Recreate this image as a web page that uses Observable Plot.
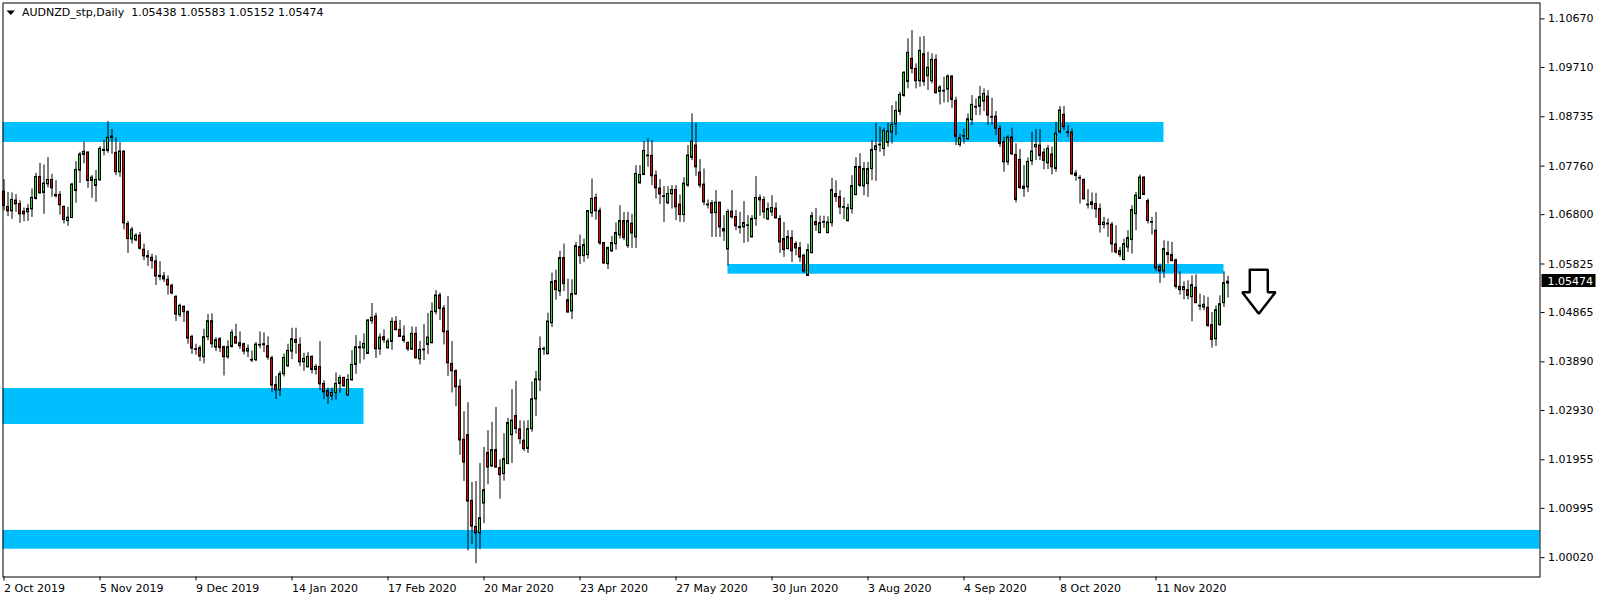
<!DOCTYPE html>
<html><head><meta charset="utf-8">
<script src="https://cdn.jsdelivr.net/npm/d3@7"></script>
<script src="https://cdn.jsdelivr.net/npm/@observablehq/plot@0.6"></script>
<style>
html,body{margin:0;padding:0;background:#fff;}
#chart svg{display:block;}
</style></head><body><div id="chart"></div>
<script>
const titleLine = "AUDNZD_stp,Daily  1.05438 1.05583 1.05152 1.05474";

const opens = [
1.07255,1.06952,1.06866,1.07077,1.07011,1.06859,1.06846,1.06905,1.07110,1.07546,
1.07229,1.07400,1.07486,1.07189,1.07189,1.06952,1.06674,1.06734,1.07268,1.07671,
1.07981,1.08027,1.07466,1.07367,1.07480,1.08060,1.08060,1.08344,1.08021,1.07638,
1.08047,1.06615,1.06311,1.06292,1.06384,1.06107,1.05981,1.05948,1.05876,1.05592,
1.05579,1.05513,1.05394,1.05176,1.04813,1.04978,1.04873,1.04384,1.04140,1.04160,
1.03982,1.04378,1.04694,1.04173,1.04338,1.04180,1.03982,1.04186,1.04378,1.04259,
1.04239,1.04094,1.03929,1.03922,1.04213,1.04239,1.04199,1.03962,1.03430,1.03325,
1.03645,1.03803,1.04094,1.04325,1.04225,1.03882,1.03783,1.03988,1.03730,1.03790,
1.03453,1.03314,1.03209,1.03275,1.03453,1.03572,1.03229,1.03526,1.03829,1.04159,
1.04159,1.04047,1.04694,1.04786,1.04139,1.04377,1.04159,1.04285,1.04681,1.04522,
1.04390,1.04265,1.04133,1.04443,1.03941,1.04120,1.04225,1.04258,1.04872,1.05202,
1.04945,1.04489,1.03849,1.03704,1.03400,1.02351,1.02443,1.01143,1.00628,1.00503,
1.01090,1.02087,1.01823,1.02146,1.01790,1.01671,1.01869,1.02443,1.02819,1.02555,
1.02331,1.02170,1.02560,1.03150,1.03526,1.04133,1.04041,1.04655,1.05486,1.05282,
1.05942,1.05110,1.04886,1.05222,1.06160,1.05981,1.06001,1.06826,1.07130,1.06872,
1.06239,1.05823,1.06074,1.06219,1.06391,1.06674,1.06179,1.06622,1.06351,1.07420,
1.07585,1.07955,1.07961,1.07572,1.07315,1.07150,1.07024,1.07202,1.07288,1.06998,
1.06793,1.07374,1.07922,1.08166,1.07631,1.07394,1.06998,1.07024,1.06832,1.07037,
1.06516,1.06113,1.06859,1.06754,1.06556,1.06549,1.06576,1.06351,1.06714,1.07130,
1.07090,1.06707,1.06846,1.06919,1.06714,1.06318,1.06120,1.06338,1.06219,1.06140,
1.05988,1.05590,1.06039,1.06653,1.06435,1.06640,1.06435,1.06633,1.07207,1.07148,
1.06936,1.06672,1.06910,1.07187,1.07742,1.07359,1.07405,1.07702,1.08078,1.08171,
1.08098,1.08217,1.08428,1.08586,1.08831,1.09147,1.09425,1.09880,1.09682,1.09438,
1.09972,1.09537,1.09438,1.09860,1.09227,1.09233,1.09273,1.09530,1.09048,1.08177,
1.08342,1.08289,1.08666,1.08916,1.08936,1.09035,1.09134,1.08732,1.08738,1.08494,
1.08232,1.07836,1.08324,1.07981,1.07882,1.07308,1.07341,1.07856,1.08133,1.08166,
1.08027,1.07816,1.07988,1.07704,1.08430,1.08773,1.08430,1.08423,1.07612,1.07526,
1.07486,1.06998,1.06992,1.07011,1.06912,1.06595,1.06622,1.06602,1.06212,1.06080,
1.05902,1.06153,1.06298,1.06813,1.07110,1.07532,1.07070,1.06655,1.06483,1.05770,
1.05678,1.06041,1.06001,1.05896,1.05374,1.05308,1.05308,1.05170,1.05354,1.04998,
1.04965,1.04958,1.04615,1.04338,1.04615,1.05051,1.05438];

const highs = [
1.07493,1.07242,1.07229,1.07196,1.07077,1.06932,1.06998,1.07308,1.07618,1.07816,
1.07783,1.07928,1.07598,1.07473,1.07255,1.06978,1.06945,1.07420,1.07849,1.08034,
1.08239,1.08041,1.07572,1.07671,1.08146,1.08265,1.08641,1.08483,1.08318,1.08225,
1.08060,1.06668,1.06549,1.06424,1.06450,1.06219,1.06087,1.06021,1.05988,1.05869,
1.05658,1.05592,1.05427,1.05196,1.05031,1.04998,1.04899,1.04417,1.04239,1.04206,
1.04536,1.04826,1.04840,1.04371,1.04371,1.04206,1.04305,1.04523,1.04635,1.04483,
1.04259,1.04226,1.04107,1.04272,1.04483,1.04463,1.04384,1.04000,1.03601,1.03700,
1.04048,1.04239,1.04556,1.04556,1.04364,1.04060,1.04073,1.04014,1.03836,1.04291,
1.03519,1.03374,1.03374,1.03671,1.03618,1.03592,1.03638,1.04113,1.04410,1.04291,
1.04443,1.04727,1.05044,1.04852,1.04443,1.04522,1.04344,1.04760,1.04786,1.04707,
1.04601,1.04285,1.04582,1.04575,1.04298,1.04628,1.04846,1.05057,1.05301,1.05248,
1.05004,1.05182,1.04291,1.03737,1.03539,1.02905,1.03083,1.01506,1.01526,1.01882,
1.02199,1.02529,1.02694,1.02991,1.01955,1.02470,1.02773,1.03341,1.03506,1.02727,
1.02720,1.02732,1.03493,1.03704,1.04384,1.04186,1.04853,1.05645,1.05704,1.06080,
1.06219,1.05526,1.05513,1.06252,1.06397,1.06318,1.06880,1.07506,1.07209,1.06932,
1.06252,1.06160,1.06371,1.06635,1.06978,1.06846,1.06846,1.06806,1.07770,1.07770,
1.08245,1.08298,1.08265,1.07664,1.07493,1.07354,1.07354,1.07374,1.07374,1.07189,
1.07532,1.08166,1.08793,1.08602,1.07889,1.07704,1.07090,1.07077,1.07275,1.07044,
1.06780,1.06899,1.07275,1.06879,1.06846,1.07057,1.06780,1.06780,1.07552,1.07189,
1.07156,1.07031,1.07176,1.07031,1.06780,1.06648,1.06483,1.06483,1.06265,1.06252,
1.06021,1.06217,1.06844,1.06923,1.06771,1.06771,1.06758,1.07517,1.07471,1.07273,
1.07134,1.07009,1.07570,1.07926,1.08006,1.07834,1.07834,1.08263,1.08606,1.08527,
1.08507,1.08606,1.08956,1.09035,1.09220,1.09629,1.10276,1.10441,1.09781,1.10309,
1.10322,1.10012,1.09979,1.09959,1.09352,1.09517,1.09563,1.09550,1.09121,1.08388,
1.08494,1.08791,1.09154,1.09088,1.09332,1.09286,1.09253,1.09101,1.08837,1.08560,
1.08331,1.08364,1.08509,1.08199,1.08087,1.07770,1.07922,1.08430,1.08483,1.08483,
1.08100,1.08166,1.08133,1.08628,1.08938,1.08938,1.08562,1.08496,1.07671,1.07572,
1.07506,1.07295,1.07229,1.07222,1.07011,1.06747,1.06714,1.06648,1.06582,1.06153,
1.06318,1.06483,1.06978,1.07242,1.07585,1.07552,1.07110,1.06747,1.06846,1.05823,
1.06285,1.06272,1.06252,1.05922,1.05671,1.05473,1.05493,1.05592,1.05612,1.05229,
1.05196,1.05163,1.04866,1.04998,1.05196,1.05671,1.05583];

const lows = [
1.06879,1.06760,1.06707,1.06846,1.06628,1.06661,1.06668,1.06747,1.07090,1.07202,
1.06806,1.07328,1.07143,1.07130,1.06793,1.06615,1.06569,1.06721,1.07024,1.07420,
1.07803,1.07321,1.07123,1.07044,1.07460,1.07961,1.08014,1.07994,1.07572,1.07539,
1.06496,1.06034,1.06219,1.06265,1.06100,1.05889,1.05777,1.05724,1.05401,1.05493,
1.05460,1.05209,1.05216,1.04688,1.04767,1.04668,1.04239,1.04041,1.04021,1.03896,
1.03850,1.04305,1.04160,1.04094,1.04074,1.03612,1.03942,1.04160,1.04239,1.04133,
1.04028,1.03975,1.03876,1.03896,1.04147,1.04074,1.03922,1.03285,1.03147,1.03206,
1.03592,1.03777,1.03935,1.04041,1.03796,1.03704,1.03770,1.03651,1.03631,1.03321,
1.03143,1.03050,1.03123,1.03136,1.03268,1.03387,1.03202,1.03506,1.03644,1.03849,
1.03928,1.04040,1.04634,1.03961,1.04021,1.04258,1.04146,1.04120,1.04509,1.04377,
1.04258,1.04093,1.04113,1.03948,1.03829,1.03915,1.04034,1.04250,1.04819,1.04707,
1.04225,1.03605,1.03275,1.03004,1.02041,1.01526,1.00153,1.00285,0.99902,1.00179,
1.00694,1.01460,1.01803,1.01783,1.01176,1.01532,1.01862,1.01882,1.02463,1.02258,
1.02120,1.02080,1.02500,1.02807,1.03302,1.04021,1.04028,1.04569,1.05110,1.05183,
1.05282,1.04853,1.04727,1.05210,1.05816,1.05856,1.05922,1.06747,1.06688,1.06193,
1.05816,1.05717,1.06054,1.06100,1.06318,1.06285,1.06133,1.06133,1.06133,1.07400,
1.07572,1.07737,1.07374,1.07110,1.06998,1.06648,1.06998,1.06912,1.06681,1.06648,
1.06648,1.07341,1.07869,1.07559,1.07321,1.06978,1.06912,1.06351,1.06351,1.06351,
1.06272,1.05790,1.06714,1.06483,1.06417,1.06232,1.06252,1.06340,1.06569,1.06767,
1.06714,1.06681,1.06767,1.06714,1.06034,1.05955,1.06100,1.05856,1.05988,1.05856,
1.05638,1.05577,1.06026,1.06468,1.06422,1.06527,1.06422,1.06554,1.07042,1.06798,
1.06699,1.06659,1.06811,1.07174,1.07339,1.07174,1.07141,1.07471,1.07458,1.08032,
1.07953,1.08131,1.08197,1.08362,1.08758,1.09121,1.09286,1.09583,1.09286,1.09319,
1.09339,1.09253,1.09385,1.09187,1.08969,1.09009,1.09009,1.08903,1.08164,1.08131,
1.08197,1.08276,1.08560,1.08758,1.08758,1.08837,1.08560,1.08573,1.08362,1.08131,
1.07638,1.07770,1.07968,1.07031,1.07295,1.07143,1.07242,1.07770,1.07869,1.07869,
1.07684,1.07691,1.07585,1.07638,1.08397,1.08463,1.08331,1.07572,1.07460,1.07011,
1.07090,1.06912,1.06899,1.06727,1.06437,1.06516,1.06351,1.06041,1.06021,1.05955,
1.05890,1.06054,1.06021,1.06483,1.07100,1.07176,1.06615,1.06397,1.05671,1.05440,
1.05539,1.05823,1.05869,1.05328,1.05209,1.05117,1.05117,1.04681,1.05040,1.04899,
1.04899,1.04569,1.04160,1.04193,1.04600,1.04965,1.05152];

const closes = [
1.06971,1.06866,1.07090,1.07004,1.06806,1.06806,1.06912,1.07130,1.07546,1.07222,
1.07414,1.07486,1.07321,1.07163,1.06985,1.06694,1.06740,1.07394,1.07684,1.07988,
1.08041,1.07466,1.07532,1.07486,1.08100,1.08080,1.08318,1.08318,1.07638,1.08047,
1.06628,1.06318,1.06503,1.06384,1.06127,1.05975,1.05955,1.05882,1.05579,1.05566,
1.05519,1.05401,1.05242,1.04826,1.04998,1.04873,1.04351,1.04153,1.04127,1.03995,
1.04378,1.04694,1.04239,1.04318,1.04166,1.03982,1.04180,1.04463,1.04252,1.04199,
1.04094,1.04147,1.03916,1.04232,1.04226,1.04219,1.03975,1.03424,1.03330,1.03645,
1.03968,1.04107,1.04338,1.04265,1.03882,1.03948,1.03988,1.03730,1.03790,1.03446,
1.03288,1.03209,1.03275,1.03453,1.03572,1.03407,1.03532,1.03829,1.04179,1.04179,
1.04245,1.04707,1.04760,1.04139,1.04370,1.04318,1.04291,1.04681,1.04516,1.04384,
1.04304,1.04139,1.04443,1.03961,1.04126,1.04133,1.04370,1.04879,1.05202,1.04938,
1.04476,1.03862,1.03704,1.03387,1.02338,1.01902,1.01130,1.00635,1.00503,1.00800,
1.01354,1.01803,1.02146,1.01803,1.01651,1.01968,1.02681,1.02727,1.02562,1.02364,
1.02166,1.02560,1.03150,1.03546,1.04140,1.04146,1.04688,1.05467,1.05308,1.05942,
1.05427,1.04866,1.05229,1.06179,1.05981,1.06199,1.06872,1.07110,1.06866,1.06232,
1.05836,1.06140,1.06239,1.06437,1.06674,1.06338,1.06674,1.06430,1.07605,1.07585,
1.08060,1.07968,1.07559,1.07321,1.07202,1.07163,1.07209,1.07288,1.06945,1.06793,
1.07414,1.07968,1.08245,1.07737,1.07374,1.07044,1.06985,1.06826,1.07037,1.06549,
1.06470,1.06853,1.06747,1.06569,1.06536,1.06635,1.06589,1.06714,1.07130,1.07084,
1.06846,1.06912,1.06932,1.06727,1.06252,1.06100,1.06358,1.06074,1.06133,1.05955,
1.05678,1.06098,1.06771,1.06593,1.06633,1.06653,1.06646,1.07286,1.07148,1.06943,
1.06950,1.06930,1.07365,1.07742,1.07372,1.07702,1.07702,1.08078,1.08151,1.08184,
1.08454,1.08441,1.08573,1.08850,1.09167,1.09603,1.09999,1.09682,1.09438,1.10038,
1.09425,1.09702,1.09860,1.09200,1.09312,1.09246,1.09530,1.09068,1.08336,1.08309,
1.08355,1.08685,1.08969,1.08930,1.09121,1.09187,1.08758,1.08718,1.08494,1.08197,
1.07836,1.08324,1.07994,1.07090,1.07328,1.07354,1.07843,1.08047,1.08179,1.07961,
1.07862,1.08100,1.07737,1.08397,1.08859,1.08529,1.08417,1.07598,1.07565,1.07513,
1.07103,1.06985,1.07044,1.06906,1.06595,1.06641,1.06608,1.06212,1.06054,1.06001,
1.06219,1.06338,1.06892,1.07176,1.07532,1.07189,1.06674,1.06641,1.05737,1.05678,
1.06120,1.06001,1.05882,1.05374,1.05308,1.05368,1.05196,1.05407,1.05051,1.04985,
1.05018,1.04602,1.04325,1.04912,1.05031,1.05447,1.05474];

// date axis: one label every 24 daily bars
const xTickBars = [0,24,48,72,96,120,144,168,192,216,240,264,288];
const xTickLabels = ["2 Oct 2019","5 Nov 2019","9 Dec 2019","14 Jan 2020","17 Feb 2020","20 Mar 2020",
  "23 Apr 2020","27 May 2020","30 Jun 2020","3 Aug 2020","4 Sep 2020","8 Oct 2020","11 Nov 2020"];
const yTickValues = [1.10670,1.09710,1.08735,1.07760,1.06800,1.05825,1.04865,1.03890,1.02930,1.01955,1.00995,1.00020];

// support / resistance zones (bar index from/to, price high/low)
const zoneFrom = [-0.25, -0.25, -0.25, 181];
const zoneTo   = [290, 90, 384, 305];
const zoneHigh = [1.08622, 1.03364, 1.00559, 1.05815];
const zoneLow  = [1.08227, 1.02653, 1.00188, 1.05624];

// hollow down arrow annotation (bar index, price)
const arrowBars   = [311.45, 315.95, 315.95, 317.875, 313.7, 309.55, 311.45, 311.45];
const arrowPrices = [1.05711, 1.05711, 1.05268, 1.05268, 1.04841, 1.05268, 1.05268, 1.05711];

const candles = opens.map((o, i) => ({i, open: o, high: highs[i], low: lows[i], close: closes[i]}));
const zones = zoneFrom.map((f, k) => ({from: f, to: zoneTo[k], high: zoneHigh[k], low: zoneLow[k]}));
const arrow = arrowBars.map((b, k) => ({bar: b, price: arrowPrices[k]}));

const bull = "#32cd32", bear = "#e80000", zoneColor = "#00bfff";

const chart = Plot.plot({
  width: 1604, height: 600,
  marginLeft: 2.5, marginRight: 64.5, marginTop: 2.5, marginBottom: 23.5,
  style: {fontFamily: "DejaVu Sans, sans-serif", fontSize: "11px", color: "black", background: "white", overflow: "visible"},
  x: {type: "linear", domain: [-0.25, 384]},
  y: {type: "linear", domain: [0.99638, 1.10984]},
  color: {type: "identity"},
  marks: [
    Plot.rect(zones, {x1: "from", x2: "to", y1: "low", y2: "high", fill: zoneColor}),
    Plot.ruleX(candles, {x: "i", y1: "low", y2: "high", stroke: "black", strokeWidth: 1}),
    Plot.rect(candles, {x1: d => d.i - 0.25, x2: d => d.i + 0.25, y1: "open", y2: "close",
      fill: d => d.close >= d.open ? bull : bear, stroke: "black", strokeWidth: 1}),
    Plot.line(arrow, {x: "bar", y: "price", stroke: "black", strokeWidth: 2.5, strokeLinejoin: "miter"}),
    Plot.axisY(yTickValues, {anchor: "right", tickSize: 4, tickPadding: 4, tickFormat: d => d.toFixed(5), fontSize: 11}),
    Plot.axisX(xTickBars, {anchor: "bottom", tickSize: 4, tickPadding: 3, textAnchor: "start",
      tickFormat: d => xTickLabels[xTickBars.indexOf(d)], fontSize: 11}),
    Plot.frame({stroke: "black"}),
    Plot.text([titleLine], {frameAnchor: "top-left", dx: 19, dy: 5.5, textAnchor: "start", lineAnchor: "top", fontSize: 11})
  ]
});

document.getElementById("chart").appendChild(chart);

// current price tag on the price axis and the chart-window dropdown triangle
const svg = d3.select(chart);
const lastClose = closes[closes.length - 1];
const yLast = chart.scale("y").apply(lastClose);
const tag = svg.append("g");
tag.append("rect").attr("x", 1541.5).attr("y", Math.round(yLast) - 7).attr("width", 54).attr("height", 13).attr("fill", "black");
tag.append("text").attr("x", 1547.5).attr("y", yLast).attr("dy", "0.35em").attr("fill", "white")
  .attr("text-anchor", "start").attr("font-size", 11).text(lastClose.toFixed(5));
svg.append("path").attr("d", "M6.5,10.5h8.5l-4.25,4.5z").attr("fill", "black");
</script>
</body></html>
